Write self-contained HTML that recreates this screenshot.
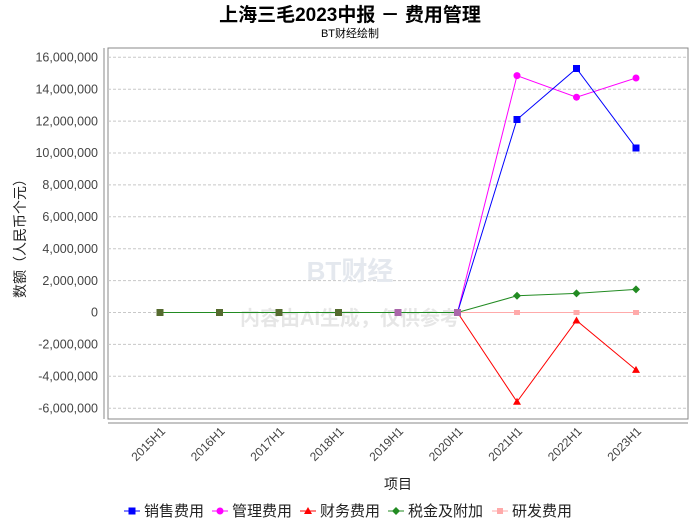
<!DOCTYPE html>
<html><head><meta charset="utf-8"><style>
body{margin:0;background:#fff;width:700px;height:524px;overflow:hidden;font-family:"Liberation Sans","Noto Sans CJK SC",sans-serif}
</style></head><body>
<svg width="700" height="524" xmlns="http://www.w3.org/2000/svg" font-family="Liberation Sans, Noto Sans CJK SC, sans-serif">
<text x="350" y="21" text-anchor="middle" font-size="19" font-weight="bold" fill="#000">上海三毛2023中报 － 费用管理</text>
<text x="350" y="37" text-anchor="middle" font-size="11" fill="#000">BT财经绘制</text>
<rect x="108" y="48" width="580" height="371" fill="#fff" stroke="#888"/>
<g stroke="#c8c8c8" stroke-dasharray="3,2" stroke-width="1">
<line x1="108" x2="688" y1="57.3" y2="57.3"/><line x1="108" x2="688" y1="89.2" y2="89.2"/><line x1="108" x2="688" y1="121.1" y2="121.1"/><line x1="108" x2="688" y1="153" y2="153"/><line x1="108" x2="688" y1="184.9" y2="184.9"/><line x1="108" x2="688" y1="216.8" y2="216.8"/><line x1="108" x2="688" y1="248.7" y2="248.7"/><line x1="108" x2="688" y1="280.6" y2="280.6"/><line x1="108" x2="688" y1="312.5" y2="312.5"/><line x1="108" x2="688" y1="344.4" y2="344.4"/><line x1="108" x2="688" y1="376.3" y2="376.3"/><line x1="108" x2="688" y1="408.2" y2="408.2"/>
</g>
<line x1="104" x2="104" y1="48" y2="419" stroke="#888"/>
<line x1="108" x2="688" y1="423" y2="423" stroke="#888"/>
<g font-size="12.5" fill="#444" text-anchor="end">
<text x="98" y="61.5">16,000,000</text><text x="98" y="93.4">14,000,000</text><text x="98" y="125.3">12,000,000</text><text x="98" y="157.2">10,000,000</text><text x="98" y="189.1">8,000,000</text><text x="98" y="221">6,000,000</text><text x="98" y="252.9">4,000,000</text><text x="98" y="284.8">2,000,000</text><text x="98" y="316.7">0</text><text x="98" y="348.6">-2,000,000</text><text x="98" y="380.5">-4,000,000</text><text x="98" y="412.4">-6,000,000</text>
</g>
<text transform="translate(25,235) rotate(-90)" text-anchor="middle" font-size="14" fill="#222">数额（人民币个元）</text>
<g font-size="12" fill="#444" text-anchor="end">
<text transform="translate(166,432) rotate(-45)">2015H1</text><text transform="translate(225.5,432) rotate(-45)">2016H1</text><text transform="translate(285,432) rotate(-45)">2017H1</text><text transform="translate(344.5,432) rotate(-45)">2018H1</text><text transform="translate(404,432) rotate(-45)">2019H1</text><text transform="translate(463.5,432) rotate(-45)">2020H1</text><text transform="translate(523,432) rotate(-45)">2021H1</text><text transform="translate(582.5,432) rotate(-45)">2022H1</text><text transform="translate(642,432) rotate(-45)">2023H1</text>
</g>
<text x="398" y="489" text-anchor="middle" font-size="14" fill="#222">项目</text>
<text x="350" y="280" text-anchor="middle" font-size="26" font-weight="bold" fill="#e4e8ee">BT财经</text>
<text x="350" y="325" text-anchor="middle" font-size="20" font-weight="bold" fill="#e6e6e6">内容由AI生成，仅供参考</text>
<polyline fill="none" stroke="#ffaaaa" stroke-width="1" points="160,312.5 219.5,312.5 279,312.5 338.5,312.5 398,312.5 457.5,312.5 517,312.5 576.5,312.5 636,312.5"/>
<g fill="#ffaaaa"><rect x="514" y="310" width="6" height="5"/><rect x="573.5" y="310" width="6" height="5"/><rect x="633" y="310" width="6" height="5"/></g>
<polyline fill="none" stroke="#f00" points="160,312.5 219.5,312.5 279,312.5 338.5,312.5 398,312.5 457.5,312.5 517,401.8 576.5,320.5 636,369.9"/>
<g fill="#f00"><polygon points="517,397.8 513,404.8 521,404.8"/><polygon points="576.5,316.5 572.5,323.5 580.5,323.5"/><polygon points="636,365.9 632,372.9 640,372.9"/></g>
<polyline fill="none" stroke="#f0f" points="160,312.5 219.5,312.5 279,312.5 338.5,312.5 398,312.5 457.5,312.5 517,75.6 576.5,97.2 636,78"/>
<g fill="#f0f"><circle cx="517" cy="75.6" r="3.5"/><circle cx="576.5" cy="97.2" r="3.5"/><circle cx="636" cy="78" r="3.5"/></g>
<polyline fill="none" stroke="#00f" points="160,312.5 219.5,312.5 279,312.5 338.5,312.5 398,312.5 457.5,312.5 517,119.5 576.5,68.5 636,148"/>
<g fill="#00f"><rect x="513.5" y="116" width="7" height="7"/><rect x="573" y="65" width="7" height="7"/><rect x="632.5" y="144.5" width="7" height="7"/></g>
<polyline fill="none" stroke="#228b22" points="160,312.5 219.5,312.5 279,312.5 338.5,312.5 398,312.5 457.5,312.5 517,295.8 576.5,293.4 636,289.4"/>
<g fill="#228b22"><polygon points="517,291.8 521,295.8 517,299.8 513,295.8"/><polygon points="576.5,289.4 580.5,293.4 576.5,297.4 572.5,293.4"/><polygon points="636,285.4 640,289.4 636,293.4 632,289.4"/></g>
<g fill="#556b2f"><rect x="156.5" y="309" width="7" height="7"/><rect x="216" y="309" width="7" height="7"/><rect x="275.5" y="309" width="7" height="7"/><rect x="335" y="309" width="7" height="7"/><rect x="394.5" y="309" width="7" height="7" fill="#aa66aa"/><rect x="454" y="309" width="7" height="7" fill="#aa66aa"/></g>
<g font-size="15" fill="#222">
<line x1="124" x2="140" y1="511" y2="511" stroke="#00f"/><rect x="128.5" y="507.5" width="7" height="7" fill="#00f"/><text x="144" y="516">销售费用</text>
<line x1="212" x2="228" y1="511" y2="511" stroke="#f0f"/><circle cx="220" cy="511" r="3.5" fill="#f0f"/><text x="232" y="516">管理费用</text>
<line x1="300" x2="316" y1="511" y2="511" stroke="#f00"/><polygon points="308,507 304,514 312,514" fill="#f00"/><text x="320" y="516">财务费用</text>
<line x1="388" x2="404" y1="511" y2="511" stroke="#228b22"/><polygon points="396,507 400,511 396,515 392,511" fill="#228b22"/><text x="408" y="516">税金及附加</text>
<line x1="492" x2="508" y1="511" y2="511" stroke="#ffaaaa"/><rect x="497" y="508" width="6" height="6" fill="#ffaaaa"/><text x="512" y="516">研发费用</text>
</g>
</svg>
</body></html>
